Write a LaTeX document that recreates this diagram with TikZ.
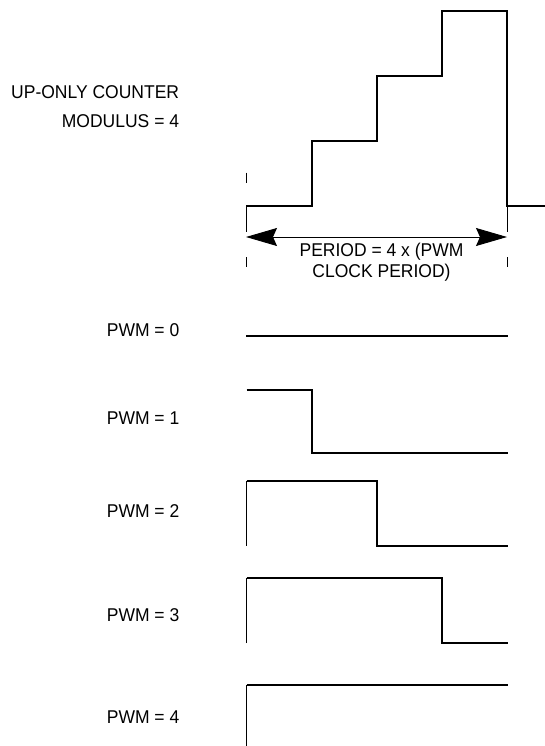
\documentclass[tikz,border=0pt]{standalone}
\usepackage{fontspec}
\setmainfont[FakeStretch=0.946]{Liberation Sans}
\usetikzlibrary{arrows.meta,positioning}

\begin{document}
\begin{tikzpicture}[
        x=1pt, y=-1pt,
        sig/.style={line width=2pt, line join=miter},
        thinline/.style={line width=0.9pt},
        lbl/.style={font=\fontsize{18.5}{20}\selectfont, inner sep=0pt, anchor=base east},
        period/.style={<->, line width=0.9pt, >={Stealth[length=31pt, width=18pt, inset=4pt]}}
    ]
    \useasboundingbox (0,0) rectangle (545,746);

    % counter staircase
    \node[lbl] (cnt) at (179.3,98.8) {UP-ONLY COUNTER};
    \node[lbl] (mod) at (179.3,128) {MODULUS = 4};
    \draw[sig] (246,205.7) -| (312,141) -| (377,76) -| (442,11) -| (507,205.7) -- (545,205.7);

    \draw[thinline] (246,172.7) -- (246,183);
    \draw[thinline] (246,205.7) -- (246,232);
    \draw[thinline] (246,257) -- (246,267);
    \draw[thinline] (507,205.7) -- (507,232);
    \draw[thinline] (507,257) -- (507,267);

    \coordinate (pl) at (246,237);
    \coordinate (pr) at (507,237);
    \draw[period] (pl) -- (pr);
    \node[font=\fontsize{18.5}{20.7}\selectfont, align=center, inner sep=0pt, anchor=north] (per) at (381.5,243.3)
        {PERIOD = 4 x (PWM\\CLOCK PERIOD)};

    % pwm outputs
    \node[lbl] (p0) at (179.5,336) {PWM = 0};
    \draw[sig] (246,335.7) -- (507.5,335.7);

    \node[lbl] (p1) at (179.5,424.3) {PWM = 1};
    \draw[sig] (246.5,389.5) -| (312,452.7) -- (507.5,452.7);

    \node[lbl] (p2) at (179.5,517.3) {PWM = 2};
    \draw[thinline] (246.5,545.7) -- (246.5,481);
    \draw[sig] (246.5,481) -| (377,545.7) -- (507.5,545.7);

    \node[lbl] (p3) at (179.5,621.7) {PWM = 3};
    \draw[thinline] (246.5,643) -- (246.5,578);
    \draw[sig] (246.5,578) -| (442,643) -- (507.5,643);

    \node[lbl] (p4) at (179.5,723.3) {PWM = 4};
    \draw[thinline] (246.5,746) -- (246.5,685);
    \draw[sig] (246.5,685) -- (507.5,685);

\end{tikzpicture}
\end{document}
